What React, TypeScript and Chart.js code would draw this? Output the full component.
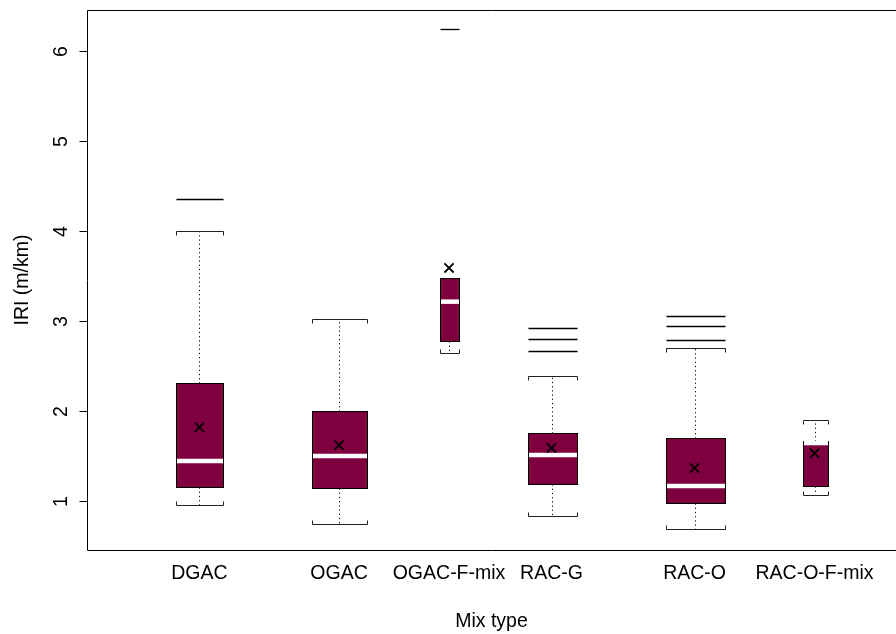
import { useEffect, useRef } from 'react';
import { Chart, registerables } from 'chart.js';
Chart.register(...registerables);

const FONT_FAMILY = '"Liberation Sans", Arial, sans-serif';

const MIX_TYPES = ['DGAC', 'OGAC', 'OGAC-F-mix', 'RAC-G', 'RAC-O', 'RAC-O-F-mix'];
const POSITIONS = [0.834, 1.869, 2.685, 3.445, 4.506, 5.396];
const BOX_WIDTHS = [0.349, 0.415, 0.134, 0.363, 0.438, 0.185];
const WHISKER_LOW = [0.956, 0.744, 2.65, 0.833, 0.69, 1.067];
const Q1 = [1.16, 1.144, 2.778, 1.189, 0.98, 1.167];
const MEDIAN = [1.444, 1.5, 3.215, 1.511, 1.167, 1.644];
const Q3 = [2.31, 2.0, 3.474, 1.756, 1.7, 1.67];
const WHISKER_HIGH = [4.0, 3.02, 3.474, 2.392, 2.697, 1.9];
const MEAN = [1.82, 1.62, 3.59, 1.59, 1.367, 1.53];
const OUTLIERS = [[4.356], [], [6.24], [2.663, 2.796, 2.926], [2.79, 2.944, 3.06], []];
const Y_TICKS = [1, 2, 3, 4, 5, 6];
const Y_MIN = 0.4556;
const Y_MAX = 6.4556;
const X_MIN = 0;
const X_MAX = 6;
const X_TITLE = 'Mix type';
const Y_TITLE = 'IRI (m/km)';

const BOX_FILL = '#7f003f';

export default function App() {
  const ref = useRef<HTMLCanvasElement>(null);
  useEffect(() => {
    document.body.style.margin = '0';
    const boxPlugin = {
      id: 'rboxes',
      beforeDatasetsDraw(chart: any) {
        const { ctx, scales } = chart;
        const x = scales.x;
        const y = scales.y;
        ctx.save();
        for (let i = 0; i < MIX_TYPES.length; i++) {
          const cx = Math.round(x.getPixelForValue(POSITIONS[i])) + 0.5;
          const half = (x.getPixelForValue(POSITIONS[i] + BOX_WIDTHS[i] / 2) - x.getPixelForValue(POSITIONS[i] - BOX_WIDTHS[i] / 2)) / 2;
          const l = Math.round(cx - half) + 0.5;
          const r = Math.round(cx + half) + 0.5;
          const yq1 = Math.round(y.getPixelForValue(Q1[i])) + 0.5;
          const yq3 = Math.round(y.getPixelForValue(Q3[i])) + 0.5;
          const ylo = Math.round(y.getPixelForValue(WHISKER_LOW[i])) + 0.5;
          const yhi = Math.round(y.getPixelForValue(WHISKER_HIGH[i])) + 0.5;
          // whiskers (dotted)
          ctx.strokeStyle = '#000';
          ctx.lineWidth = 1;
          ctx.setLineDash([1.2, 3]);
          ctx.beginPath();
          ctx.moveTo(cx, yq3);
          ctx.lineTo(cx, yhi);
          ctx.moveTo(cx, yq1);
          ctx.lineTo(cx, ylo);
          ctx.stroke();
          ctx.setLineDash([]);
          // caps
          ctx.strokeStyle = '#222';
          ctx.beginPath();
          ctx.moveTo(l, yhi + 4);
          ctx.lineTo(l, yhi);
          ctx.lineTo(r, yhi);
          ctx.lineTo(r, yhi + 4);
          ctx.moveTo(l, ylo - 4);
          ctx.lineTo(l, ylo);
          ctx.lineTo(r, ylo);
          ctx.lineTo(r, ylo - 4);
          ctx.stroke();
          // box
          ctx.fillStyle = BOX_FILL;
          ctx.fillRect(l, yq3, r - l, yq1 - yq3);
          ctx.strokeStyle = '#000';
          ctx.strokeRect(l, yq3, r - l, yq1 - yq3);
          // median
          const ym = y.getPixelForValue(MEDIAN[i]);
          ctx.strokeStyle = '#fff';
          ctx.lineWidth = 4.5;
          ctx.beginPath();
          ctx.moveTo(l + 0.5, ym);
          ctx.lineTo(r - 0.5, ym);
          ctx.stroke();
          // outliers
          ctx.strokeStyle = '#000';
          ctx.lineWidth = 1.3;
          for (const o of OUTLIERS[i]) {
            const yo = Math.round(y.getPixelForValue(o)) + 0.5;
            ctx.beginPath();
            ctx.moveTo(l, yo);
            ctx.lineTo(r, yo);
            ctx.stroke();
          }
        }
        ctx.restore();
      },
      afterDraw(chart: any) {
        const { ctx, scales, chartArea } = chart;
        const x = scales.x;
        const y = scales.y;
        ctx.save();
        ctx.strokeStyle = '#000';
        ctx.lineWidth = 1;
        const L = chartArea.left + 0.5;
        const T = chartArea.top + 0.5;
        const B = chartArea.bottom + 0.5;
        ctx.beginPath();
        ctx.moveTo(chartArea.right + 5, T);
        ctx.lineTo(L, T);
        ctx.lineTo(L, B);
        ctx.lineTo(chartArea.right + 5, B);
        ctx.stroke();
        // y ticks
        ctx.fillStyle = '#000';
        ctx.font = '19.5px ' + FONT_FAMILY;
        ctx.textAlign = 'center';
        ctx.textBaseline = 'middle';
        for (const t of Y_TICKS) {
          const py = Math.round(y.getPixelForValue(t)) + 0.5;
          ctx.beginPath();
          ctx.moveTo(L - 8, py);
          ctx.lineTo(L, py);
          ctx.stroke();
          ctx.save();
          ctx.translate(L - 26, py);
          ctx.rotate(-Math.PI / 2);
          ctx.fillText(String(t), 0, 0);
          ctx.restore();
        }
        // y title
        ctx.save();
        ctx.translate(23, (chartArea.top + chartArea.bottom) / 2);
        ctx.rotate(-Math.PI / 2);
        ctx.fillText(Y_TITLE, 0, 0);
        ctx.restore();
        // x labels
        for (let i = 0; i < MIX_TYPES.length; i++) {
          ctx.fillText(MIX_TYPES[i], x.getPixelForValue(POSITIONS[i]), 574);
        }
        ctx.fillText(X_TITLE, (chartArea.left + 896) / 2, 622);
        ctx.restore();
      },
    };
    const chart = new Chart(ref.current as HTMLCanvasElement, {
      type: 'scatter',
      data: {
        datasets: [
          {
            data: POSITIONS.map((p, i) => ({ x: p, y: MEAN[i] })),
            pointStyle: 'crossRot',
            radius: 6.5,
            borderColor: '#000',
            backgroundColor: '#000',
            borderWidth: 1.8,
          },
        ],
      },
      options: {
        animation: false,
        responsive: false,
        devicePixelRatio: 1,
        events: [],
        layout: { autoPadding: false, padding: { left: 87, top: 10, right: 0, bottom: 84 } },
        scales: {
          x: { type: 'linear', min: X_MIN, max: X_MAX, display: false },
          y: { type: 'linear', min: Y_MIN, max: Y_MAX, display: false },
        },
        plugins: { legend: { display: false }, tooltip: { enabled: false } },
      },
      plugins: [boxPlugin],
    });
    return () => chart.destroy();
  }, []);
  return (
    <div style={{ position: 'absolute', left: 0, top: 0, width: 896, height: 634 }}>
      <canvas ref={ref} width={896} height={634} style={{ width: 896, height: 634 }} />
    </div>
  );
}
